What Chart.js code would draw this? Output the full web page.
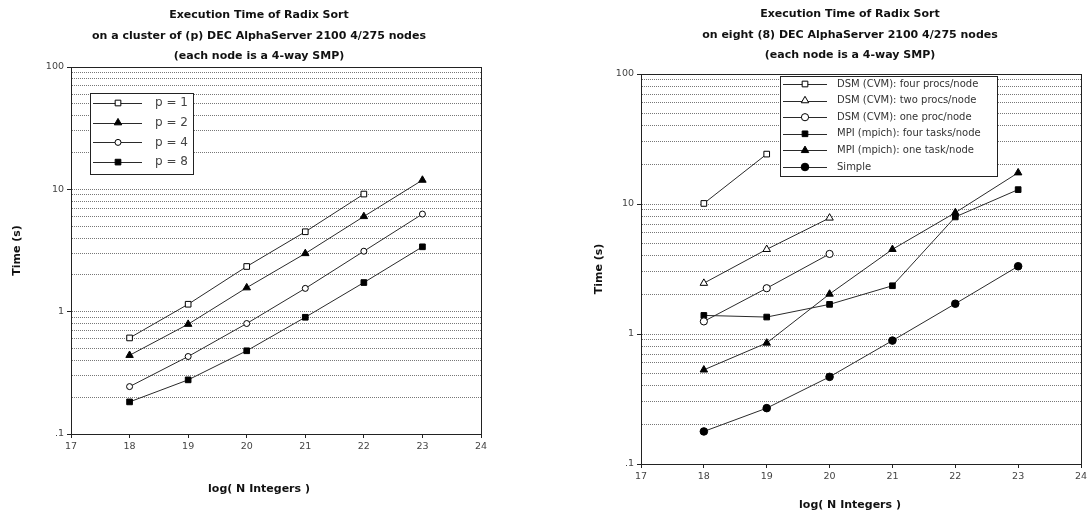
<!DOCTYPE html>
<html><head><meta charset="utf-8">
<script src="https://cdn.jsdelivr.net/npm/chart.js@4"></script>
<style>
html,body{margin:0;padding:0;background:#fff;overflow:hidden;}
#wrap{position:relative;width:1088px;height:512px;overflow:hidden;background:#fff;}
canvas{position:absolute;top:0;}
</style></head><body>
<div id="wrap">
<canvas id="left" width="544" height="512" style="left:0px"></canvas>
<canvas id="right" width="540" height="512" style="left:580px"></canvas>
</div>
<script>
// ---------- shared axes ----------
const X_MIN = 17, X_MAX = 24;
const X_TICKS = [17, 18, 19, 20, 21, 22, 23, 24];
const Y_MIN = 0.1, Y_MAX = 100;
const Y_TICKS = [0.1,0.2,0.3,0.4,0.5,0.6,0.7,0.8,0.9,1,2,3,4,5,6,7,8,9,10,20,30,40,50,60,70,80,90,100];
const Y_DECADES = [0.1, 1, 10, 100];
const Y_DECADE_LABELS = ['.1', '1', '10', '100'];
const Y_TITLE = 'Time (s)';
const X_TITLE = 'log( N Integers )';

// ---------- left chart ----------
const LEFT_TITLE = ['Execution Time of Radix Sort',
  'on a cluster of (p) DEC AlphaServer 2100 4/275 nodes',
  '(each node is a 4-way SMP)'];
const LEFT_X = [18, 19, 20, 21, 22, 23];
const LEFT_NAMES = ['p = 1', 'p = 2', 'p = 4', 'p = 8'];
const P1 = [0.61, 1.15, 2.34, 4.5, 9.15];
const P2 = [0.44, 0.79, 1.57, 2.99, 6.0, 11.9];
const P4 = [0.244, 0.43, 0.80, 1.55, 3.12, 6.28];
const P8 = [0.183, 0.277, 0.479, 0.90, 1.73, 3.39];

// ---------- right chart ----------
const RIGHT_TITLE = ['Execution Time of Radix Sort',
  'on eight (8) DEC AlphaServer 2100 4/275 nodes',
  '(each node is a 4-way SMP)'];
const RIGHT_X = [18, 19, 20, 21, 22, 23];
const RIGHT_NAMES = ['DSM (CVM): four procs/node', 'DSM (CVM): two procs/node',
  'DSM (CVM): one proc/node', 'MPI (mpich): four tasks/node',
  'MPI (mpich): one task/node', 'Simple'];
const DSM_FOUR = [10.1, 24.2];
const DSM_TWO = [2.46, 4.48, 7.81];
const DSM_ONE = [1.25, 2.25, 4.13];
const MPI_FOUR = [1.39, 1.35, 1.69, 2.35, 7.95, 12.9];
const MPI_ONE = [0.53, 0.853, 2.03, 4.48, 8.58, 17.4];
const SIMPLE = [0.178, 0.269, 0.468, 0.89, 1.71, 3.32];

const FONT = "'DejaVu Sans', Verdana, sans-serif";
const LINE_COLOR = '#2a2a2a';
const AXIS_COLOR = '#222';
const TEXT_COLOR = '#111';
const TICK_TEXT = '#444';

function isDecade(v) { return Y_DECADES.some(d => Math.abs(v - d) < 1e-9); }
function decadeLabel(v) {
  const i = Y_DECADES.findIndex(d => Math.abs(v - d) < 1e-9);
  return i >= 0 ? Y_DECADE_LABELS[i] : '';
}

function series(label, xs, ys, style, filled, radius) {
  return {
    label: label,
    data: ys.map((y, i) => ({x: xs[i], y: y})),
    borderColor: LINE_COLOR,
    borderWidth: 1,
    pointStyle: style,
    pointRadius: radius,
    pointBorderWidth: 1,
    pointBorderColor: '#000',
    pointBackgroundColor: filled ? '#000' : '#fff',
    tension: 0,
    fill: false
  };
}

function drawMarker(ctx, style, x, y, r, fill, stroke) {
  ctx.beginPath();
  if (style === 'circle') {
    ctx.arc(x, y, r, 0, Math.PI * 2);
  } else if (style === 'rect') {
    const s = Math.SQRT1_2 * r;
    ctx.rect(x - s, y - s, 2 * s, 2 * s);
  } else if (style === 'triangle') {
    const a = 2 * Math.PI / 3;
    ctx.moveTo(x, y - r);
    ctx.lineTo(x + Math.sin(a) * r, y - Math.cos(a) * r);
    ctx.lineTo(x + Math.sin(2 * a) * r, y - Math.cos(2 * a) * r);
    ctx.closePath();
  }
  ctx.fillStyle = fill; ctx.fill();
  ctx.lineWidth = 1; ctx.strokeStyle = stroke; ctx.stroke();
}

const boxLegend = {
  id: 'boxLegend',
  afterDraw(chart, args, o) {
    if (!o || !o.boxW) return;
    const ctx = chart.ctx;
    ctx.save();
    ctx.fillStyle = '#fff';
    ctx.fillRect(o.boxX, o.boxY, o.boxW, o.boxH);
    ctx.strokeStyle = AXIS_COLOR; ctx.lineWidth = 1;
    ctx.strokeRect(o.boxX + 0.5, o.boxY + 0.5, o.boxW, o.boxH);
    chart.data.datasets.forEach((ds, i) => {
      const y = o.firstRow + i * o.rowGap;
      ctx.beginPath();
      ctx.moveTo(o.lineX1, Math.round(y) + 0.5);
      ctx.lineTo(o.lineX2, Math.round(y) + 0.5);
      ctx.strokeStyle = LINE_COLOR; ctx.lineWidth = 1; ctx.stroke();
      drawMarker(ctx, ds.pointStyle, o.markerX, y, ds.pointRadius, ds.pointBackgroundColor, ds.pointBorderColor);
      ctx.fillStyle = o.color;
      ctx.font = o.fontSize + 'px ' + FONT;
      ctx.textBaseline = 'middle'; ctx.textAlign = 'left';
      ctx.fillText(ds.label, o.textX, y);
    });
    ctx.restore();
  }
};

function makeOptions(c) {
  const tickFont = {family: FONT, size: 9.5};
  const titleFont = {family: FONT, size: 11, weight: 'bold', lineHeight: 20.5 / 11};
  const axisTitleFont = {family: FONT, size: 11, weight: 'bold', lineHeight: 14 / 11};
  return {
    responsive: false,
    animation: false,
    layout: {padding: {left: c.padL, right: c.padR, top: 0, bottom: 0}},
    plugins: {
      legend: {display: false},
      tooltip: {enabled: false},
      title: {display: true, text: c.title, font: titleFont, color: TEXT_COLOR,
        padding: {top: c.titlePadTop, bottom: c.titlePadBottom}},
      subtitle: {display: true, position: 'bottom', text: X_TITLE, font: axisTitleFont, color: TEXT_COLOR,
        padding: {top: c.subPadTop, bottom: c.subPadBottom}},
      boxLegend: c.legend
    },
    scales: {
      x: {
        type: 'linear', position: 'bottom', min: X_MIN, max: X_MAX,
        afterBuildTicks: s => { s.ticks = X_TICKS.map(v => ({value: v})); },
        ticks: {autoSkip: false, maxRotation: 0, color: TICK_TEXT, font: tickFont, padding: 3,
          callback: v => String(v)},
        grid: {drawOnChartArea: false, drawTicks: true, tickLength: 4, tickColor: AXIS_COLOR},
        border: {display: true, color: AXIS_COLOR, width: 1},
        afterFit: s => { s.height = c.xAxisH; }
      },
      x2: {
        type: 'linear', position: 'top', min: X_MIN, max: X_MAX,
        ticks: {display: false}, grid: {display: false},
        border: {display: true, color: AXIS_COLOR, width: 1},
        afterFit: s => { s.height = 0; }
      },
      y: {
        type: 'logarithmic', position: 'left', min: Y_MIN, max: Y_MAX,
        afterBuildTicks: s => { s.ticks = Y_TICKS.map(v => ({value: v})); },
        ticks: {autoSkip: false, color: TICK_TEXT, font: tickFont, padding: 3,
          callback: v => decadeLabel(v)},
        grid: {color: '#777', lineWidth: 1, drawTicks: true, tickLength: 4,
          tickColor: ctx => (ctx.tick && isDecade(ctx.tick.value)) ? AXIS_COLOR : 'rgba(0,0,0,0)'},
        border: {display: true, color: AXIS_COLOR, width: 1, dash: [1, 1]},
        title: {display: true, text: Y_TITLE, font: axisTitleFont, color: TEXT_COLOR,
          padding: {top: c.yTitlePad, bottom: 0}},
        afterFit: s => { s.width = c.yAxisW; }
      },
      y2: {
        type: 'logarithmic', position: 'right', min: Y_MIN, max: Y_MAX,
        ticks: {display: false}, grid: {display: false},
        border: {display: true, color: AXIS_COLOR, width: 1},
        afterFit: s => { s.width = c.y2W; }
      }
    }
  };
}

new Chart(document.getElementById('left'), {
  type: 'line',
  data: {datasets: [
    series(LEFT_NAMES[0], LEFT_X, P1, 'rect', false, 4),
    series(LEFT_NAMES[1], LEFT_X, P2, 'triangle', true, 4.3),
    series(LEFT_NAMES[2], LEFT_X, P4, 'circle', false, 3),
    series(LEFT_NAMES[3], LEFT_X, P8, 'rect', true, 4)
  ]},
  options: makeOptions({
    title: LEFT_TITLE, padL: 0, padR: 26,
    titlePadTop: 5, titlePadBottom: 0.5,
    subPadTop: 18, subPadBottom: 16,
    xAxisH: 30, yAxisW: 71, y2W: 37, yTitlePad: 10,
    legend: {boxX: 90, boxY: 93, boxW: 103, boxH: 81, firstRow: 103, rowGap: 19.7,
      lineX1: 93, lineX2: 142, markerX: 118, textX: 155, fontSize: 12, color: '#444'}
  }),
  plugins: [boxLegend]
});

new Chart(document.getElementById('right'), {
  type: 'line',
  data: {datasets: [
    series(RIGHT_NAMES[0], RIGHT_X, DSM_FOUR, 'rect', false, 4),
    series(RIGHT_NAMES[1], RIGHT_X, DSM_TWO, 'triangle', false, 4.3),
    series(RIGHT_NAMES[2], RIGHT_X, DSM_ONE, 'circle', false, 3.6),
    series(RIGHT_NAMES[3], RIGHT_X, MPI_FOUR, 'rect', true, 4),
    series(RIGHT_NAMES[4], RIGHT_X, MPI_ONE, 'triangle', true, 4.3),
    series(RIGHT_NAMES[5], RIGHT_X, SIMPLE, 'circle', true, 3.8)
  ]},
  options: makeOptions({
    title: RIGHT_TITLE, padL: 0, padR: 0,
    titlePadTop: 4, titlePadBottom: 8.5,
    subPadTop: 8, subPadBottom: 0,
    xAxisH: 26, yAxisW: 61, y2W: 39, yTitlePad: 12,
    legend: {boxX: 200, boxY: 76, boxW: 217, boxH: 100, firstRow: 84, rowGap: 16.6,
      lineX1: 203, lineX2: 247, markerX: 225, textX: 257, fontSize: 10, color: '#333'}
  }),
  plugins: [boxLegend]
});
</script>
</body></html>
